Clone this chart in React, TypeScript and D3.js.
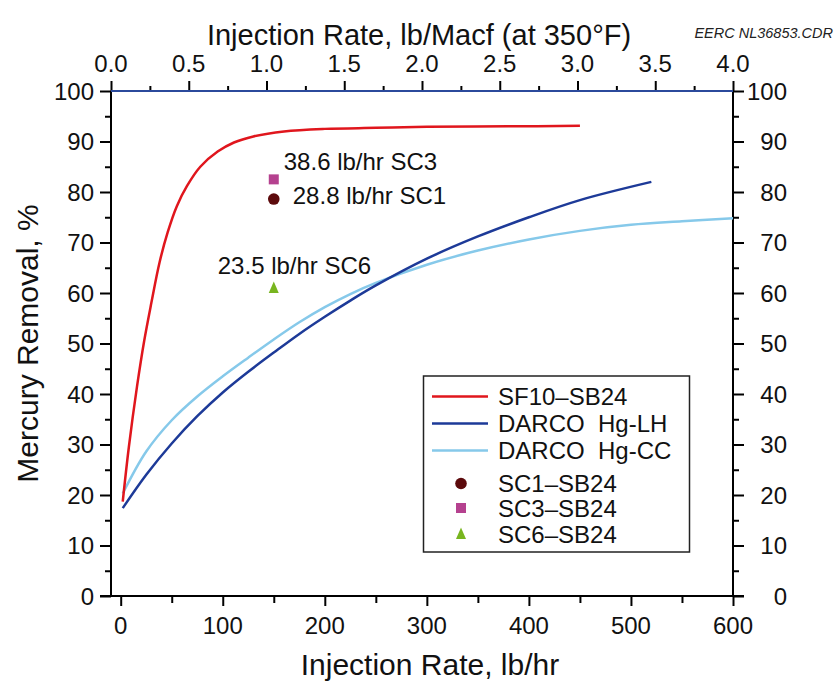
import React, { useEffect, useRef } from 'react';
import * as d3 from 'd3';

// curves (lb/hr vs % removal)
const sf10X = [2, 8, 16, 23, 30, 38, 46, 55, 65, 78, 95, 111, 130, 160, 200, 250, 300, 380, 450];
const sf10Y = [18.7, 29.5, 41.5, 50.5, 58, 66, 72, 77.2, 81.2, 85, 88, 89.8, 91.0, 92.0, 92.5, 92.7, 92.9, 93.0, 93.1];

const lhX = [2, 25, 50, 75, 100, 125, 150, 175, 200, 225, 250, 300, 350, 400, 450, 520];
const lhY = [17.4, 24, 30.2, 35.6, 40.3, 44.4, 48.2, 51.9, 55.3, 58.5, 61.5, 66.8, 71.2, 75, 78.4, 82];

const ccX = [2, 25, 50, 75, 100, 125, 150, 175, 200, 225, 250, 300, 350, 400, 450, 500, 550, 600];
const ccY = [20.3, 28.6, 34.8, 39.5, 43.5, 47.2, 50.8, 54.2, 57.2, 59.8, 62, 65.6, 68.4, 70.6, 72.3, 73.5, 74.2, 74.8];

// single test points
const pointNames = ['SC1–SB24', 'SC3–SB24', 'SC6–SB24'];
const pointX = [150, 150, 150];
const pointY = [78.6, 82.5, 61];
const pointLabels = ['28.8 lb/hr SC1', '38.6 lb/hr SC3', '23.5 lb/hr SC6'];

const lineNames = ['SF10–SB24', 'DARCO  Hg-LH', 'DARCO  Hg-CC'];
const bottomTicks = [0, 100, 200, 300, 400, 500, 600];
const topTicks = [0, 0.5, 1, 1.5, 2, 2.5, 3, 3.5, 4];
const yTicks = [0, 10, 20, 30, 40, 50, 60, 70, 80, 90, 100];

const App = () => {
  const svgRef = useRef(null);

  useEffect(() => {
    document.body.style.margin = '0';
    const svg = d3.select(svgRef.current);
    svg.selectAll('*').remove();

    const font = 'Liberation Sans, Arial, sans-serif';
    const left = 111, right = 733, top = 91, bottom = 596;

    const x = d3.scaleLinear().domain([0, 600]).range([120.7, 733]);
    const xTop = d3.scaleLinear().domain([0, 4]).range([left, right]);
    const y = d3.scaleLinear().domain([0, 100]).range([bottom, top]);

    svg.append('rect').attr('width', 839).attr('height', 685).attr('fill', '#fff');

    // axes
    const axisStyle = (g) => {
      g.select('.domain').remove();
      g.selectAll('line').attr('stroke', '#000').attr('stroke-width', 2);
      g.selectAll('text').remove();
    };

    const bottomAxis = svg.append('g').attr('transform', `translate(0,${bottom})`);
    bottomAxis.call(d3.axisBottom(x).tickValues(d3.range(0, 601, 50)).tickSize(7));
    axisStyle(bottomAxis);
    bottomAxis.selectAll('.tick').filter((d) => d % 100 === 0).select('line').attr('y2', 10);
    svg.append('g').selectAll('text').data(bottomTicks).join('text')
      .attr('x', (d) => x(d)).attr('y', 634).attr('text-anchor', 'middle')
      .attr('font-family', font).attr('font-size', 24).attr('fill', '#111')
      .text((d) => d);

    const topAxis = svg.append('g').attr('transform', `translate(0,${top})`);
    topAxis.call(d3.axisTop(xTop).tickValues(d3.range(0, 4.01, 0.25)).tickSize(5));
    axisStyle(topAxis);
    topAxis.selectAll('.tick').filter((d) => Math.abs(d * 2 - Math.round(d * 2)) < 1e-6).select('line').attr('y2', -10);
    svg.append('g').selectAll('text').data(topTicks).join('text')
      .attr('x', (d) => xTop(d)).attr('y', 72).attr('text-anchor', 'middle')
      .attr('font-family', font).attr('font-size', 24).attr('fill', '#111')
      .text((d) => d3.format('.1f')(d));

    const leftAxis = svg.append('g').attr('transform', `translate(${left},0)`);
    leftAxis.call(d3.axisLeft(y).tickValues(d3.range(0, 101, 5)).tickSize(6));
    axisStyle(leftAxis);
    leftAxis.selectAll('.tick').filter((d) => d % 10 === 0).select('line').attr('x2', -11);

    const rightAxis = svg.append('g').attr('transform', `translate(${right},0)`);
    rightAxis.call(d3.axisRight(y).tickValues(d3.range(0, 101, 5)).tickSize(6));
    axisStyle(rightAxis);
    rightAxis.selectAll('.tick').filter((d) => d % 10 === 0).select('line').attr('x2', 11);

    svg.append('g').selectAll('text').data(yTicks).join('text')
      .attr('x', 94).attr('y', (d) => y(d)).attr('dy', '0.36em').attr('text-anchor', 'end')
      .attr('font-family', font).attr('font-size', 24).attr('fill', '#111')
      .text((d) => d);
    svg.append('g').selectAll('text').data(yTicks).join('text')
      .attr('x', 787).attr('y', (d) => y(d)).attr('dy', '0.36em').attr('text-anchor', 'end')
      .attr('font-family', font).attr('font-size', 24).attr('fill', '#111')
      .text((d) => d);

    // frame
    svg.append('line').attr('x1', left).attr('x2', left).attr('y1', top).attr('y2', bottom).attr('stroke', '#000').attr('stroke-width', 2);
    svg.append('line').attr('x1', right).attr('x2', right).attr('y1', top).attr('y2', bottom).attr('stroke', '#000').attr('stroke-width', 2);
    svg.append('line').attr('x1', left - 11).attr('x2', right + 11).attr('y1', bottom).attr('y2', bottom).attr('stroke', '#000').attr('stroke-width', 2);
    svg.append('line').attr('x1', left).attr('x2', right).attr('y1', top).attr('y2', top).attr('stroke', '#2b4a9c').attr('stroke-width', 2);

    // curves
    const line = d3.line().x((d) => x(d[0])).y((d) => y(d[1])).curve(d3.curveCatmullRom.alpha(0.5));
    const series = [
      { xs: sf10X, ys: sf10Y, color: '#e0161d' },
      { xs: lhX, ys: lhY, color: '#1d3a98' },
      { xs: ccX, ys: ccY, color: '#86c9ea' },
    ];
    series.slice().reverse().forEach((s) => {
      svg.append('path')
        .datum(s.xs.map((v, i) => [v, s.ys[i]]))
        .attr('fill', 'none')
        .attr('stroke', s.color)
        .attr('stroke-width', 2.5)
        .attr('d', line);
    });

    // markers
    const markerColors = ['#5c0a0c', '#b5418f', '#78b51f'];
    const drawMarker = (g, i, cx, cy) => {
      if (i === 0) g.append('circle').attr('cx', cx).attr('cy', cy).attr('r', 5.8).attr('fill', markerColors[0]);
      if (i === 1) g.append('rect').attr('x', cx - 5).attr('y', cy - 5).attr('width', 10).attr('height', 10).attr('fill', markerColors[1]);
      if (i === 2) g.append('path').attr('d', `M${cx},${cy - 6.5}L${cx + 5},${cy + 5}L${cx - 5},${cy + 5}Z`).attr('fill', markerColors[2]);
    };
    const labelOffsets = [[19, 4.5], [10, -9], [-56, -14]];
    pointX.forEach((px, i) => {
      const cx = x(px), cy = y(pointY[i]);
      drawMarker(svg, i, cx, cy);
      svg.append('text')
        .attr('x', cx + labelOffsets[i][0]).attr('y', cy + labelOffsets[i][1])
        .attr('font-family', font).attr('font-size', 24).attr('fill', '#111')
        .text(pointLabels[i]);
    });

    // legend
    const lg = svg.append('g');
    lg.append('rect').attr('x', 423.5).attr('y', 376).attr('width', 266).attr('height', 176)
      .attr('fill', '#fff').attr('stroke', '#222').attr('stroke-width', 1.5);
    const rowY = [396.5, 423.5, 450.5, 483.5, 508, 534];
    lineNames.forEach((name, i) => {
      lg.append('line').attr('x1', 432).attr('x2', 488).attr('y1', rowY[i]).attr('y2', rowY[i])
        .attr('stroke', series[i].color).attr('stroke-width', 2.5);
      lg.append('text').attr('x', 498).attr('y', rowY[i]).attr('dy', '0.36em')
        .attr('font-family', font).attr('font-size', 24).attr('fill', '#111')
        .style('white-space', 'pre')
        .text(name);
    });
    pointNames.forEach((name, i) => {
      const ry = rowY[i + 3];
      drawMarker(lg, i, 461, ry);
      lg.append('text').attr('x', 498).attr('y', ry).attr('dy', '0.36em')
        .attr('font-family', font).attr('font-size', 24).attr('fill', '#111')
        .text(name);
    });

    // titles
    svg.append('text').attr('x', 430).attr('y', 675).attr('text-anchor', 'middle')
      .attr('font-family', font).attr('font-size', 30).attr('fill', '#111')
      .text('Injection Rate, lb/hr');
    svg.append('text').attr('x', 419).attr('y', 45).attr('text-anchor', 'middle')
      .attr('font-family', font).attr('font-size', 29).attr('fill', '#111')
      .text('Injection Rate, lb/Macf (at 350°F)');
    svg.append('text').attr('transform', `translate(38,${(top + bottom) / 2}) rotate(-90)`)
      .attr('text-anchor', 'middle')
      .attr('font-family', font).attr('font-size', 30).attr('fill', '#111')
      .text('Mercury Removal, %');
    svg.append('text').attr('x', 833).attr('y', 38).attr('text-anchor', 'end')
      .attr('font-family', font).attr('font-size', 14.5).attr('font-style', 'italic').attr('fill', '#222')
      .text('EERC NL36853.CDR');
  }, []);

  return <svg ref={svgRef} width={839} height={685} style={{ display: 'block' }} />;
};

export default App;
